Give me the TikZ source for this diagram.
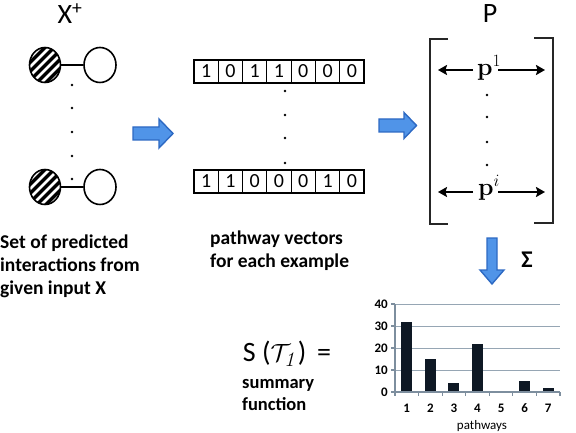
\documentclass[tikz,border=0pt]{standalone}
\usepackage[no-math]{fontspec}
\setmainfont{Carlito}
\usetikzlibrary{arrows.meta,shapes.geometric}
\definecolor{arrowfill}{RGB}{80,148,232}
\definecolor{arrowedge}{RGB}{45,105,195}
\definecolor{gridc}{RGB}{150,166,180}
\definecolor{axisc}{RGB}{125,142,158}
\definecolor{barc}{RGB}{14,24,36}
\begin{document}
\begin{tikzpicture}[x=1pt,y=-1pt,
  lbl/.style={font=\fontsize{19.5}{23}\selectfont\bfseries, align=left, inner sep=0pt},
  cell/.style={draw, line width=1.2pt, minimum width=24.29pt, minimum height=23pt, inner sep=0pt, font=\fontsize{20}{20}\selectfont},
  dotc/.style={circle, fill=black, inner sep=0pt, minimum size=2.6pt},
  hatched/.style={ellipse, draw, line width=1.6pt, minimum width=31pt, minimum height=35pt, inner sep=0pt,
    path picture={
      \fill[black] (path picture bounding box.south west) rectangle (path picture bounding box.north east);
      \foreach \k in {-40,-31,...,40}
        \draw[white, line width=2.6pt] ([xshift={(\k-22)*1pt}, yshift=-22pt]path picture bounding box.center) -- ([xshift={(\k+22)*1pt}, yshift=22pt]path picture bounding box.center);
    }},
  opencirc/.style={ellipse, draw, line width=1.6pt, minimum width=32pt, minimum height=35pt, inner sep=0pt, fill=white},
  link/.style={line width=2.4pt},
  blockarrow/.style={fill=arrowfill, draw=arrowedge, line width=1.4pt, line join=miter},
  brack/.style={line width=2pt, draw=black!85},
  parr/.style={line width=2pt, -{Stealth[length=9pt, width=10pt, inset=1.5pt]}},
  big/.style={font=\fontsize{28}{28}\selectfont, inner sep=0pt},
  pvec/.style={inner sep=0pt, font=\fontsize{25}{25}\selectfont},
  grid/.style={draw=gridc, line width=1pt},
  axis/.style={draw=axisc, line width=1.2pt},
  tick/.style={font=\fontsize{13}{13}\selectfont\bfseries, inner sep=0pt},
  bar/.style={fill=barc}
]
\useasboundingbox (0,0) rectangle (576,433);

% ---------- left column ----------
\node[big] (xp) at (70,14) {X\textsuperscript{+}};
\node[hatched] (h1) at (45,65) {};
\node[opencirc] (o1) at (100,65) {};
\draw[link] (h1) -- (o1);
\node[hatched] (h2) at (45,187) {};
\node[opencirc] (o2) at (100,187) {};
\draw[link] (h2) -- (o2);
\foreach \yy [count=\i] in {85,108,132,156,179} \node[dotc] (ld\i) at (72,\yy) {};
\node[lbl, anchor=west] (leftlbl) at (0,266) {Set of predicted\\interactions from\\given input X};

% ---------- arrow 1 ----------
\draw[blockarrow] (133,127) -- (159,127) -- (159,119) -- (173,133.5) -- (159,148) -- (159,140) -- (133,140) -- cycle;

% ---------- middle column ----------
\foreach \d [count=\i] in {1,0,1,1,0,0,0}
  \node[cell] (a\i) at ({194+12.145+24.29*(\i-1)},71.5) {\d};
\foreach \d [count=\i] in {1,1,0,0,0,1,0}
  \node[cell] (b\i) at ({194+12.145+24.29*(\i-1)},181.5) {\d};
\foreach \yy [count=\i] in {91,115,138,163} \node[dotc] (md\i) at (285,\yy) {};
\node[lbl, anchor=west] (midlbl) at (210,251) {pathway vectors\\for each example};

% ---------- arrow 2 ----------
\draw[blockarrow] (379,119) -- (404,119) -- (404,112.5) -- (416.5,125.5) -- (404,138.5) -- (404,132) -- (379,132) -- cycle;

% ---------- matrix P ----------
\node[big] (P) at (490,14) {P};
\draw[brack] (448,39) -- (430,39) -- (430,224) -- (448,224);
\draw[brack] (534,38) -- (553,38) -- (553,223) -- (534,223);
\node[pvec] (p1) at (489,68) {$\mathbf{p}^{1}$};
\node[pvec] (pi) at (489,188) {$\mathbf{p}^{i}$};
\coordinate (p1l) at (438,70);
\coordinate (p1r) at (545,70);
\coordinate (pil) at (438,192);
\coordinate (pir) at (545,192);
\draw[parr] (473,70) -- (p1l);
\draw[parr] (498,70) -- (p1r);
\draw[parr] (473,192) -- (pil);
\draw[parr] (498,192) -- (pir);
\foreach \yy [count=\i] in {95,117,142,165} \node[dotc] (rd\i) at (487,\yy) {};

% ---------- down arrow + Sigma ----------
\draw[blockarrow] (487,238) -- (497,238) -- (497,270) -- (504,270) -- (492,284) -- (480,270) -- (487,270) -- cycle;
\node[inner sep=0pt, font=\fontsize{24}{24}\selectfont\bfseries] (sigma) at (527,260) {Σ};

% ---------- summary function ----------
\node[big] (S) at (287,354) {S ($\mathcal{T}_{\mathit{1}}$) \,=};
\node[inner sep=0pt, anchor=west, align=left, font=\fontsize{18.5}{22}\selectfont\bfseries] (sumlbl) at (242,395) {summary\\function};

% ---------- bar chart ----------
\foreach \v in {10,20,30,40} \draw[grid] (395,{392-2.2*\v}) -- (560,{392-2.2*\v});
\foreach \v in {0,10,20,30,40} {
  \draw[axis] (391,{392-2.2*\v}) -- (395,{392-2.2*\v});
  \node[tick, anchor=east] (yl\v) at (388,{392-2.2*\v}) {\v};
}
\foreach \val [count=\i] in {32,15,4,22,0,5,2} {
  \pgfmathsetmacro{\cx}{395+23.57*(\i-0.5)}
  \ifdim\val pt>0pt \fill[bar] ({\cx-5.5},392) rectangle ({\cx+5.5},{392-2.2*\val}); \fi
  \node[tick] (xl\i) at (\cx,408) {\i};
}
\foreach \i in {0,...,7} \draw[axis] ({395+23.57*\i},392) -- ({395+23.57*\i},396);
\draw[axis] (395,304) -- (395,392) -- (560,392);
\node[inner sep=0pt, font=\fontsize{13}{13}\selectfont] (pw) at (482,426) {pathways};
\end{tikzpicture}
\end{document}
